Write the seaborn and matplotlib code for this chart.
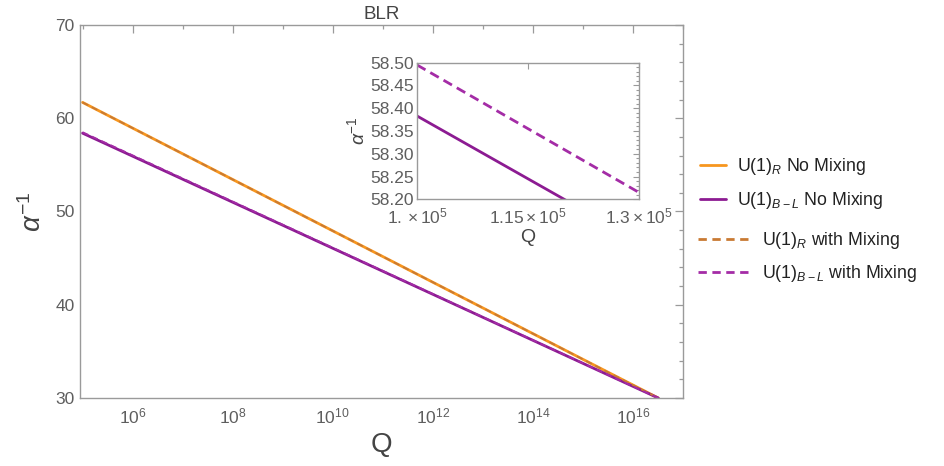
import numpy as np
import pandas as pd
import matplotlib
matplotlib.use("Agg")
import matplotlib.pyplot as plt
import seaborn as sns
from matplotlib.ticker import FixedLocator, FixedFormatter, NullFormatter
from matplotlib.lines import Line2D

# ---------------- data ----------------
Q_main = [1.0e5, 3.2e16]
R_no_mix = [61.7, 30.0]
BL_no_mix = [58.4, 30.0]
R_mix = [61.7, 30.0]
BL_mix = [58.5, 30.0]

Q_inset = [1.0e5, 1.3e5]
BL_no_mix_inset = [58.383, 58.107]
BL_mix_inset = [58.495, 58.215]

x_major = [1e6, 1e8, 1e10, 1e12, 1e14, 1e16]
x_minor = [1e5, 1e7, 1e9, 1e11, 1e13, 1e15, 1e17]
y_major = [30, 40, 50, 60, 70]
y_minor = [32, 34, 36, 38, 42, 44, 46, 48, 52, 54, 56, 58, 62, 64, 66, 68]

inset_x_ticks = [1.0e5, 1.15e5, 1.3e5]
inset_x_labels = [r"$\mathdefault{1.\times10^{5}}$", r"$\mathdefault{1.15\times10^{5}}$",
                  r"$\mathdefault{1.3\times10^{5}}$"]
inset_y_ticks = [58.20, 58.25, 58.30, 58.35, 58.40, 58.45, 58.50]
inset_y_labels = ["58.20", "58.25", "58.30", "58.35", "58.40", "58.45", "58.50"]

labels = [r"U(1)$_{R}$ No Mixing", r"U(1)$_{B-L}$ No Mixing",
          r"U(1)$_{R}$ with Mixing", r"U(1)$_{B-L}$ with Mixing"]

# ---------------- style ----------------
sns.set_theme(style="white")
plt.rcParams["font.family"] = ["Liberation Sans", "DejaVu Sans"]
plt.rcParams["mathtext.fontset"] = "custom"
plt.rcParams["mathtext.rm"] = "Liberation Sans"
plt.rcParams["mathtext.it"] = "Liberation Sans:italic"
plt.rcParams["mathtext.bf"] = "Liberation Sans:bold"

C_OR = "#F7961E"
C_PU = "#8C1B92"
C_OR_D = "#C97A33"
C_PU_D = "#A42CA6"
GRAY = "#9a9a9a"
TXT = "#5e5e5e"

fig = plt.figure(figsize=(9.45, 4.66), dpi=100)
ax = fig.add_axes([0.0847, 0.1459, 0.6381, 0.8005])
ax.set_xscale("log")

df = pd.DataFrame({"Q": Q_main, "R": R_no_mix, "BL": BL_no_mix, "Rm": R_mix, "BLm": BL_mix})
sns.lineplot(data=df, x="Q", y="R", ax=ax, color=C_OR, lw=2.0)
sns.lineplot(data=df, x="Q", y="BL", ax=ax, color=C_PU, lw=2.0)
sns.lineplot(data=df, x="Q", y="Rm", ax=ax, color=C_OR_D, lw=1.3,
             linestyle=(0, (3.5, 2.2)))
sns.lineplot(data=df, x="Q", y="BLm", ax=ax, color=C_PU_D, lw=1.3,
             linestyle=(0, (3.5, 2.2)))

ax.set_xlim(10 ** 4.95, 1e17)
ax.set_ylim(30, 70)
ax.xaxis.set_major_locator(FixedLocator(x_major))
ax.xaxis.set_minor_locator(FixedLocator(x_minor))
ax.xaxis.set_minor_formatter(NullFormatter())
ax.yaxis.set_major_locator(FixedLocator(y_major))
ax.yaxis.set_minor_locator(FixedLocator(y_minor))
ax.tick_params(which="both", direction="in", top=True, right=True, colors=GRAY,
               labelcolor=TXT, labelsize=12.5, width=0.9)
ax.tick_params(which="major", length=6)
ax.tick_params(which="minor", length=3)
ax.tick_params(axis="x", pad=6)
ax.tick_params(axis="y", pad=4)
for s in ax.spines.values():
    s.set_color(GRAY)
    s.set_linewidth(1.0)
ax.set_xlabel("Q", fontsize=20, color="#444444", labelpad=4)
ax.set_ylabel(r"$\alpha^{-1}$", fontsize=20, color="#444444", labelpad=6)
ax.set_title("BLR", fontsize=13.5, color="#444444", pad=4)

# ---------------- inset ----------------
axi = fig.add_axes([0.4413, 0.5723, 0.2349, 0.2932])
dfi = pd.DataFrame({"Q": Q_inset, "BL": BL_no_mix_inset, "BLm": BL_mix_inset})
sns.lineplot(data=dfi, x="Q", y="BL", ax=axi, color=C_PU, lw=2.0)
sns.lineplot(data=dfi, x="Q", y="BLm", ax=axi, color=C_PU_D, lw=2.0,
             linestyle=(0, (3.5, 2.0)))
axi.set_xlim(1.0e5, 1.3e5)
axi.set_ylim(58.2, 58.5)
axi.xaxis.set_major_locator(FixedLocator(inset_x_ticks))
axi.xaxis.set_major_formatter(FixedFormatter(inset_x_labels))
axi.yaxis.set_major_locator(FixedLocator(inset_y_ticks))
axi.yaxis.set_major_formatter(FixedFormatter(inset_y_labels))
axi.yaxis.set_minor_locator(FixedLocator(list(np.arange(58.20, 58.505, 0.01))))
axi.tick_params(which="both", direction="in", top=True, right=True, colors=GRAY,
                labelcolor=TXT, labelsize=12.5, width=0.8)
axi.tick_params(which="major", length=4)
axi.tick_params(which="minor", length=2)
axi.tick_params(axis="x", pad=5)
axi.tick_params(axis="y", pad=2)
for s in axi.spines.values():
    s.set_color(GRAY)
    s.set_linewidth(1.0)
axi.set_facecolor("white")
axi.set_xlabel("Q", fontsize=14, color="#444444", labelpad=2)
axi.set_ylabel(r"$\alpha^{-1}$", fontsize=14, color="#444444", labelpad=2)

# ---------------- legends ----------------
h1 = [Line2D([], [], color=C_OR, lw=2.0), Line2D([], [], color=C_PU, lw=2.0)]
h2 = [Line2D([], [], color=C_OR_D, lw=2.0, linestyle=(0, (3.0, 2.0))),
      Line2D([], [], color=C_PU_D, lw=2.0, linestyle=(0, (3.0, 2.0)))]
leg1 = fig.legend(h1, labels[:2], loc="center left", bbox_to_anchor=(700 / 945, 1 - 183.5 / 466),
                  frameon=False, fontsize=12.8, handlelength=1.45, handletextpad=0.65,
                  labelspacing=0.75, borderpad=0, borderaxespad=0)
leg2 = fig.legend(h2, labels[2:], loc="center left", bbox_to_anchor=(698 / 945, 1 - 257 / 466),
                  frameon=False, fontsize=12.8, handlelength=3.0, handletextpad=0.6,
                  labelspacing=0.7, borderpad=0, borderaxespad=0)
for t in list(leg1.get_texts()) + list(leg2.get_texts()):
    t.set_color("#222222")

fig.savefig("out.png", dpi=100)
